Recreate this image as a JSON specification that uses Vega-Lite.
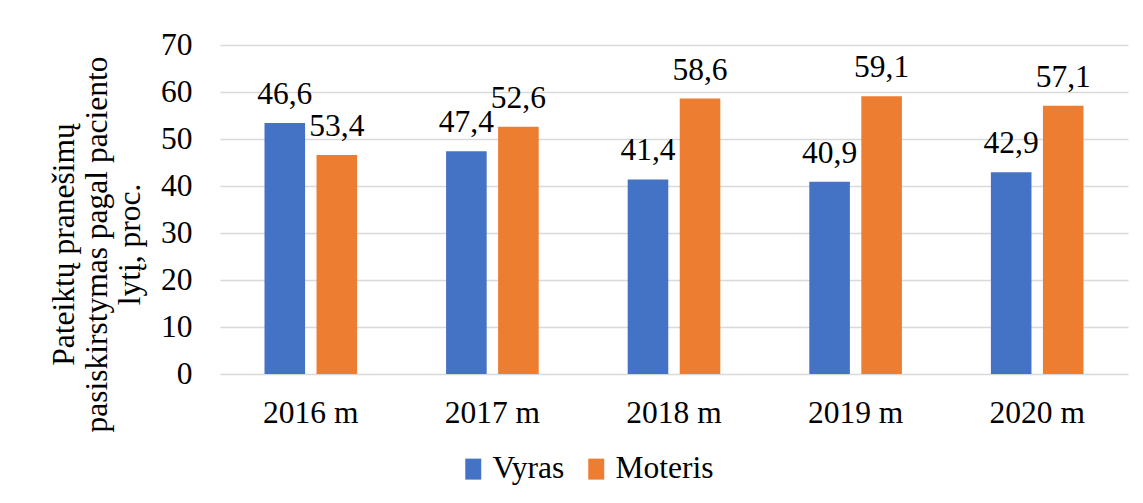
{
  "$schema": "https://vega.github.io/schema/vega-lite/v6.json",
  "width": 908,
  "height": 329,
  "autosize": {"type": "none"},
  "padding": {"left": 220, "top": 45, "right": 15, "bottom": 129},
  "background": "white",
  "config": {"view": {"stroke": null}, "font": "Times New Roman, Liberation Serif, serif"},
  "data": {
    "values": [
      {"year": "2016 m", "sex": "Vyras", "value": 53.4, "label": "46,6"},
      {"year": "2016 m", "sex": "Moteris", "value": 46.6, "label": "53,4"},
      {"year": "2017 m", "sex": "Vyras", "value": 47.4, "label": "47,4"},
      {"year": "2017 m", "sex": "Moteris", "value": 52.6, "label": "52,6"},
      {"year": "2018 m", "sex": "Vyras", "value": 41.4, "label": "41,4"},
      {"year": "2018 m", "sex": "Moteris", "value": 58.6, "label": "58,6"},
      {"year": "2019 m", "sex": "Vyras", "value": 40.9, "label": "40,9"},
      {"year": "2019 m", "sex": "Moteris", "value": 59.1, "label": "59,1"},
      {"year": "2020 m", "sex": "Vyras", "value": 42.9, "label": "42,9"},
      {"year": "2020 m", "sex": "Moteris", "value": 57.1, "label": "57,1"}
    ]
  },
  "encoding": {
    "x": {
      "field": "year",
      "type": "nominal",
      "sort": null,
      "scale": {"paddingInner": 0.49, "paddingOuter": 0.245},
      "axis": {
        "title": null,
        "labelAngle": 0,
        "ticks": false,
        "tickSize": 0,
        "domain": false,
        "labelPadding": 48,
        "labelBaseline": "alphabetic",
        "labelFontSize": 31.5,
        "labelFont": "Times New Roman, Liberation Serif, serif",
        "labelColor": "#000000"
      }
    },
    "xOffset": {
      "field": "sex",
      "type": "nominal",
      "sort": ["Vyras", "Moteris"],
      "scale": {"paddingInner": 0.22, "paddingOuter": 0}
    },
    "y": {
      "field": "value",
      "type": "quantitative",
      "scale": {"domain": [0, 70]},
      "axis": {
        "values": [0, 10, 20, 30, 40, 50, 60, 70],
        "grid": true,
        "gridColor": "#d9d9d9",
        "gridWidth": 1.3,
        "domain": false,
        "ticks": false,
        "labelPadding": 28,
        "labelFontSize": 31.5,
        "labelFont": "Times New Roman, Liberation Serif, serif",
        "labelColor": "#000000",
        "title": ["Pateiktų pranešimų", "pasiskirstymas pagal paciento", "lytį,  proc."],
        "titleFont": "Times New Roman, Liberation Serif, serif",
        "titleFontSize": 31.5,
        "titleFontWeight": "normal",
        "titleColor": "#000000",
        "titleLineHeight": 33,
        "titleAngle": -90,
        "titleAlign": "center",
        "titleBaseline": "alphabetic",
        "titleX": -147,
        "titleY": 199
      }
    }
  },
  "layer": [
    {
      "mark": {"type": "bar"},
      "encoding": {
        "color": {
          "field": "sex",
          "type": "nominal",
          "scale": {"domain": ["Vyras", "Moteris"], "range": ["#4472C4", "#ED7D31"]},
          "legend": {
            "orient": "none",
            "legendX": 237.5,
            "legendY": 408,
            "direction": "horizontal",
            "title": null,
            "symbolType": "M-0.76,-1H0.76V1H-0.76Z",
            "symbolSize": 441,
            "symbolStrokeWidth": 0,
            "symbolOpacity": 1,
            "labelFontSize": 31.5,
            "labelFont": "Times New Roman, Liberation Serif, serif",
            "labelColor": "#000000",
            "labelOffset": 3.5,
            "columnPadding": 16,
            "padding": 0
          }
        }
      }
    },
    {
      "mark": {
        "type": "text",
        "dy": -19,
        "baseline": "alphabetic",
        "fontSize": 31.5,
        "font": "Times New Roman, Liberation Serif, serif",
        "color": "#000000"
      },
      "encoding": {"text": {"field": "label"}}
    }
  ]
}
